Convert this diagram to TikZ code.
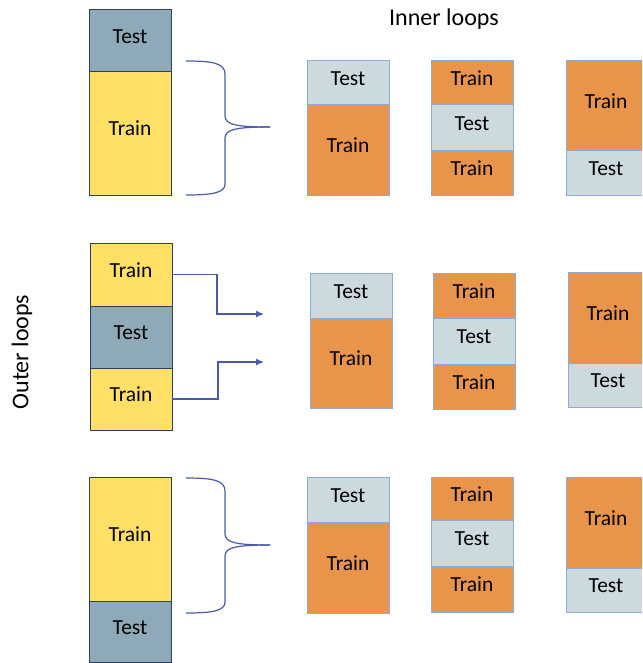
\documentclass[tikz,border=0pt]{standalone}
\usepackage{fontspec}
\setmainfont{Carlito}
\usetikzlibrary{arrows.meta}
\definecolor{outborder}{HTML}{2E3F66}
\definecolor{outtestfill}{HTML}{8EAAB8}
\definecolor{outtrainfill}{HTML}{FFE066}
\definecolor{inborder}{HTML}{8EAADB}
\definecolor{intestfill}{HTML}{CCD9DD}
\definecolor{intrainfill}{HTML}{E8944A}
\definecolor{linkcol}{HTML}{4A5AAE}
\tikzset{
  cell/.style={anchor=north west, inner sep=0pt, outer sep=0pt, minimum width=82pt,
    font=\fontsize{21.5}{25}\selectfont, text=black, text height=14pt, text depth=9pt},
  outtest/.style={cell, draw=outborder, fill=outtestfill, line width=1pt},
  outtrain/.style={cell, draw=outborder, fill=outtrainfill, line width=1pt},
  intest/.style={cell, draw=inborder, fill=intestfill, line width=1pt},
  intrain/.style={cell, draw=inborder, fill=intrainfill, line width=1pt},
  title/.style={font=\fontsize{24}{28}\selectfont, text=black, inner sep=0pt},
  link/.style={draw=linkcol, line width=1.2pt},
  linkarrow/.style={link, -{Latex[length=8pt,width=7pt]}}
}
\begin{document}
\begin{tikzpicture}[x=1pt,y=-1pt]
\useasboundingbox (0,0) rectangle (642,663);
\clip (0,0) rectangle (642,663);
% titles
\node[title] (inner) at (444,19) {Inner loops};
\node[title, rotate=90] (outer) at (22,352) {Outer loops};
% ---- Row 1 ----
\node[outtest, minimum height=62pt] (o1a) at (89,10) {Test};
\node[outtrain, minimum height=123pt] (o1b) at (89,72) {Train};
\node[intest, minimum height=44pt] (r1a1) at (307,61) {Test};
\node[intrain, minimum height=90pt] (r1a2) at (307,105) {Train};
\node[intrain, minimum height=44pt] (r1b1) at (431,61) {Train};
\node[intest, minimum height=46pt] (r1b2) at (431,105) {Test};
\node[intrain, minimum height=44pt] (r1b3) at (431,151) {Train};
\node[intrain, minimum height=90pt, minimum width=80pt] (r1c1) at (566,61) {Train};
\node[intest, minimum height=44pt, minimum width=80pt] (r1c2) at (566,151) {Test};
% brace 1
\coordinate (b1t) at (186,61);
\coordinate (b1b) at (186,195);
\coordinate (b1tip) at (270,127);
\draw[link] (b1t) .. controls (212,61) and (225,63) .. (225,74) -- (225,116)
  .. controls (225,125) and (238,127) .. (b1tip);
\draw[link] (b1b) .. controls (212,195) and (225,193) .. (225,184) -- (225,138)
  .. controls (225,129) and (238,127) .. (b1tip);
% ---- Row 2 ----
\node[outtrain, minimum height=63pt] (o2a) at (90,243) {Train};
\node[outtest, minimum height=62pt] (o2b) at (90,306) {Test};
\node[outtrain, minimum height=62pt] (o2c) at (90,368) {Train};
\node[intest, minimum height=45pt] (r2a1) at (310,273) {Test};
\node[intrain, minimum height=90pt] (r2a2) at (310,318) {Train};
\node[intrain, minimum height=45pt] (r2b1) at (433,273) {Train};
\node[intest, minimum height=46pt] (r2b2) at (433,318) {Test};
\node[intrain, minimum height=45pt] (r2b3) at (433,364) {Train};
\node[intrain, minimum height=91pt, minimum width=80pt] (r2c1) at (568,272) {Train};
\node[intest, minimum height=44pt, minimum width=80pt] (r2c2) at (568,363) {Test};
\coordinate (a1end) at (264,314);
\coordinate (a2end) at (264,362);
\draw[linkarrow] (o2a.east) -| (217,314) -- (a1end);
\draw[linkarrow] (o2c.east) -| (218,362) -- (a2end);
% ---- Row 3 ----
\node[outtrain, minimum height=124pt] (o3a) at (89,477) {Train};
\node[outtest, minimum height=61pt] (o3b) at (89,601) {Test};
\node[intest, minimum height=45pt] (r3a1) at (307,477) {Test};
\node[intrain, minimum height=91pt] (r3a2) at (307,522) {Train};
\node[intrain, minimum height=43pt] (r3b1) at (431,477) {Train};
\node[intest, minimum height=46pt] (r3b2) at (431,520) {Test};
\node[intrain, minimum height=46pt] (r3b3) at (431,566) {Train};
\node[intrain, minimum height=91pt, minimum width=80pt] (r3c1) at (566,477) {Train};
\node[intest, minimum height=44pt, minimum width=80pt] (r3c2) at (566,568) {Test};
% brace 3
\coordinate (b3t) at (186,478);
\coordinate (b3b) at (186,613);
\coordinate (b3tip) at (270,545);
\draw[link] (b3t) .. controls (212,478) and (225,480) .. (225,491) -- (225,534)
  .. controls (225,543) and (238,545) .. (b3tip);
\draw[link] (b3b) .. controls (212,613) and (225,611) .. (225,602) -- (225,556)
  .. controls (225,547) and (238,545) .. (b3tip);
\end{tikzpicture}
\end{document}
